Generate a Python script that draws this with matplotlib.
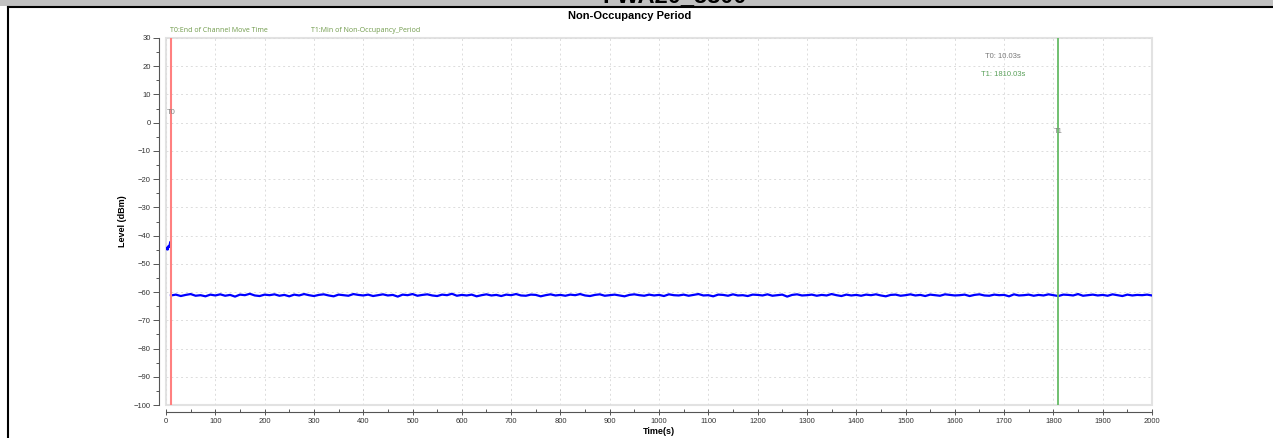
import numpy as np
import matplotlib
matplotlib.use("Agg")
import matplotlib.pyplot as plt
from matplotlib.patches import Rectangle
from matplotlib.ticker import MultipleLocator

plt.rcParams['font.family'] = ['Liberation Sans Narrow', 'Liberation Sans', 'DejaVu Sans']

# ---- data ----
title = "Non-Occupancy Period"
header = "FWA20_5800"
x_label = "Time(s)"
y_label = "Level (dBm)"
t0 = 10.03
t1 = 1810.03
marker_legend = ["T0:End of Channel Move Time", "T1:Min of Non-Occupancy_Period"]
marker_readout = ["T0: 10.03s", "T1: 1810.03s"]

pre_time = [0.5, 2.0, 3.5, 5.0, 6.5, 7.5, 8.5, 9.5]
pre_level = [-44.8, -44.2, -45.0, -43.6, -44.1, -43.0, -42.2, -43.5]

steady_level = [
    -61.2, -60.9, -61.4, -61.0, -60.7, -61.3, -61.1, -61.5, -60.9, -61.2,
    -60.8, -61.3, -61.0, -61.6, -60.9, -61.1, -60.6, -61.2, -61.4, -60.9,
    -61.1, -60.8, -61.3, -61.0, -61.5, -60.9, -61.2, -60.7, -61.1, -61.4,
    -61.0, -60.8, -61.2, -61.5, -60.9, -61.1, -61.3, -60.7, -61.0, -61.2,
    -60.9, -61.4, -61.1, -60.8, -61.2, -61.0, -61.6, -60.9, -61.1, -60.7,
    -61.3, -61.0, -60.8, -61.2, -61.4, -60.9, -61.1, -60.6, -61.3, -61.0,
    -61.2, -60.9, -61.5, -61.1, -60.8, -61.2, -61.0, -61.4, -60.9, -61.1,
    -60.7, -61.2, -61.3, -60.9, -61.0, -61.5, -61.1, -60.8, -61.2, -61.0,
    -61.3, -60.9, -61.1, -60.7, -61.2, -61.4, -61.0, -60.8, -61.3, -61.1,
    -60.9, -61.2, -61.5, -61.0, -60.8, -61.1, -61.3, -60.9, -61.2, -61.0,
    -61.4, -60.8, -61.1, -61.2, -60.9, -61.3, -61.0, -60.7, -61.2, -61.1,
    -61.5, -60.9, -61.0, -61.3, -60.8, -61.2, -61.1, -61.4, -60.9, -61.0,
    -61.2, -60.8, -61.3, -61.1, -60.9, -61.6, -61.0, -60.8, -61.2, -61.1,
    -60.9, -61.3, -61.0, -61.2, -60.7, -61.1, -61.4, -60.9, -61.2, -61.0,
    -61.3, -60.9, -61.1, -60.8, -61.2, -61.5, -61.0, -60.9, -61.3, -61.1,
    -60.8, -61.2, -61.0, -61.4, -60.9, -61.1, -61.3, -60.8, -61.0, -61.2,
    -61.1, -60.9, -61.4, -61.0, -60.8, -61.2, -61.3, -60.9, -61.1, -61.0,
    -61.5, -60.8, -61.2, -61.1, -60.9, -61.3, -61.0, -61.2, -60.8, -61.1,
    -61.4, -60.9, -61.0, -61.2, -60.7, -61.3, -61.1, -60.9, -61.2, -61.0,
    -61.3, -60.8, -61.1, -61.4, -60.9, -61.2, -61.0, -61.1, -60.9, -61.2,
]
steady_time = np.linspace(t0, 2000, len(steady_level))

x_ticks = list(range(0, 2001, 100))
y_ticks = list(range(-100, 31, 10))

# ---- figure ----
W, H = 1273, 438
fig = plt.figure(figsize=(W / 100, H / 100), dpi=100)

def fx(px):
    return px / W

def fy(py):
    return 1 - py / H

# page decoration (table cell header)
fig.patches.append(Rectangle((0, fy(6)), 1, 6 / H, transform=fig.transFigure,
                             facecolor='#c0c0c0', edgecolor='none', zorder=0))
fig.add_artist(plt.Line2D([fx(8), 1], [fy(6.5), fy(6.5)], transform=fig.transFigure,
                          color='black', lw=1.5))
fig.add_artist(plt.Line2D([fx(8), fx(8)], [0, fy(6.5)], transform=fig.transFigure,
                          color='black', lw=1.5))
fig.text(fx(675), fy(2.5), header, ha='center', va='baseline', fontsize=17,
         fontweight='bold', family=['Liberation Sans', 'DejaVu Sans'])

left, right, top, bottom = 166, 1152, 38, 405
ax = fig.add_axes([fx(left), fy(bottom), fx(right - left), (bottom - top) / H])

ax.plot(pre_time, pre_level, color='#0000ff', lw=1.4, zorder=3)
ax.plot(steady_time, steady_level, color='#0000ff', lw=1.6, zorder=3)
ax.axvline(t0, color='#ff8080', lw=1.5, zorder=4)
ax.axvline(t1, color='#66bb66', lw=1.3, zorder=4)
ax.text(t0, 3.5, "T0", color='#808080', fontsize=5.5, ha='center', va='center', zorder=5)
ax.text(t1, -3, "T1", color='#808080', fontsize=5.5, ha='center', va='center', zorder=5)

ax.set_xlim(0, 2000)
ax.set_ylim(-100, 30)
ax.set_xticks(x_ticks)
ax.set_yticks(y_ticks)
ax.xaxis.set_minor_locator(MultipleLocator(50))
ax.yaxis.set_minor_locator(MultipleLocator(5))
ax.grid(True, which='major', color='#dcdcdc', lw=0.7, linestyle=(0, (2, 3)))

for s in ('top', 'right'):
    ax.spines[s].set_visible(False)
for s in ('left', 'bottom'):
    ax.spines[s].set_position(('outward', 5))
    ax.spines[s].set_color('#555555')
    ax.spines[s].set_linewidth(0.8)
ax.add_patch(Rectangle((0, 0), 1, 1, transform=ax.transAxes, fill=False,
                       edgecolor='#e2e2e2', lw=1.5, clip_on=False, zorder=1))

ax.tick_params(axis='both', which='major', labelsize=5.5, colors='#555555',
               labelcolor='#333333', length=4, width=0.7, pad=2)
ax.tick_params(axis='x', which='major', direction='inout', length=5)
ax.tick_params(axis='both', which='minor', length=2.5, width=0.7, colors='#555555')
ax.tick_params(axis='x', which='minor', direction='in')

ax.set_xlabel(x_label, fontsize=6.5, fontweight='bold', labelpad=1,
              family=['Liberation Sans', 'DejaVu Sans'])
ax.set_ylabel(y_label, fontsize=6.5, fontweight='bold', labelpad=5,
              family=['Liberation Sans', 'DejaVu Sans'])

fig.text(fx(630), fy(16), title, ha='center', va='center', fontsize=8,
         fontweight='bold', family=['Liberation Sans', 'DejaVu Sans'])
fig.text(fx(170), fy(31), marker_legend[0], ha='left', va='center', fontsize=5,
         color='#6f9a4a', family=['Open Sans', 'DejaVu Sans'])
fig.text(fx(311), fy(31), marker_legend[1], ha='left', va='center', fontsize=5,
         color='#6f9a4a', family=['Open Sans', 'DejaVu Sans'])
fig.text(fx(1003), fy(57), marker_readout[0], ha='center', va='center', fontsize=5.5,
         color='#777777')
fig.text(fx(1003), fy(75), marker_readout[1], ha='center', va='center', fontsize=5.5,
         color='#5aa05a')

fig.savefig("out.png", dpi=100)
